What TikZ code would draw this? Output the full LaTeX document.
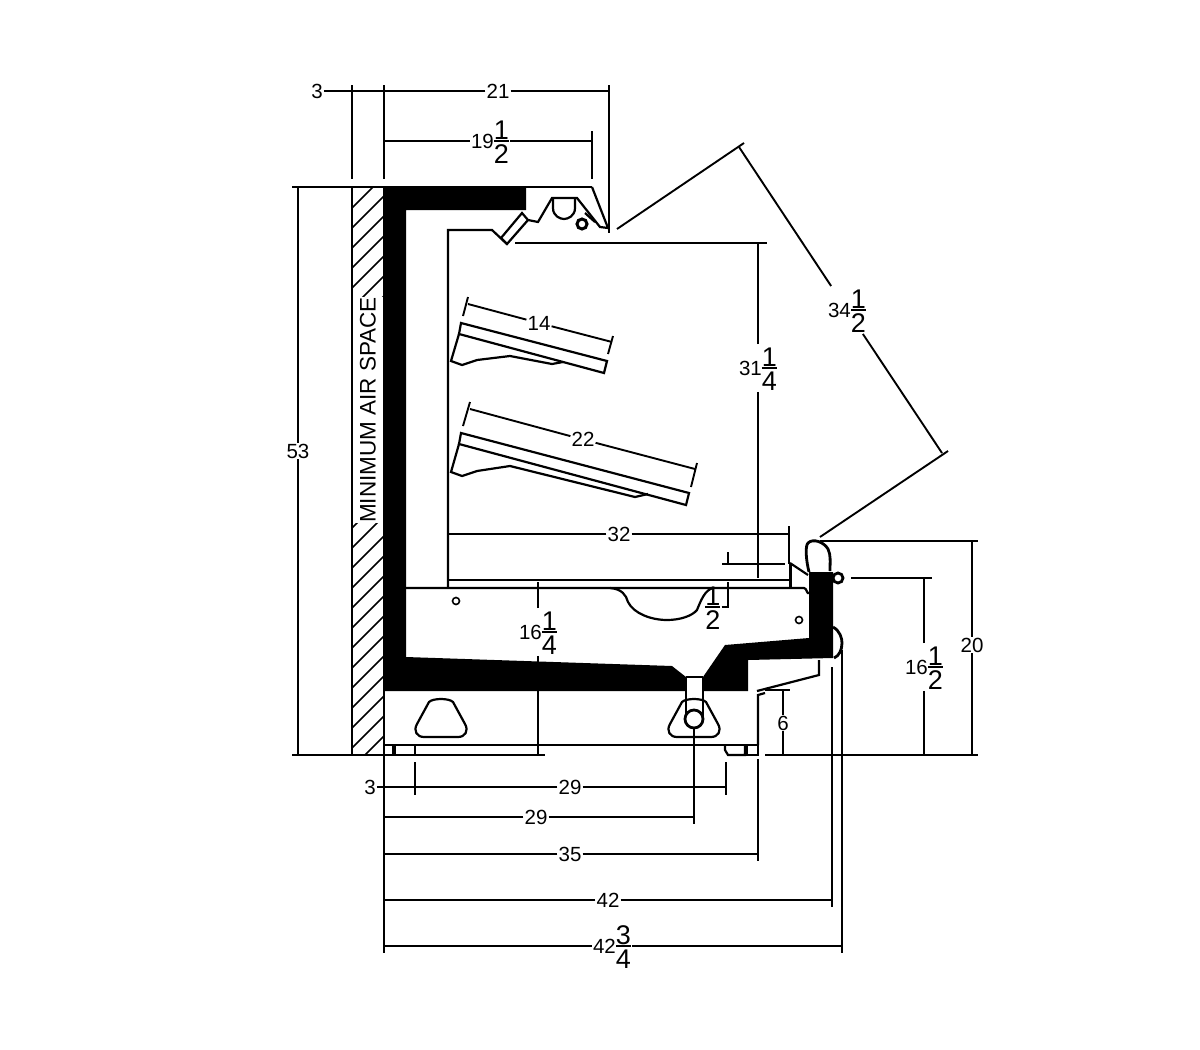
\documentclass[tikz,border=0pt]{standalone}
\usepackage{fontspec}
\setmainfont{Liberation Sans}
\usetikzlibrary{positioning,calc}
\newcommand{\smallfig}{\fontsize{20.5}{22}\selectfont}
\newcommand{\bigfig}{\fontsize{27}{30}\selectfont}
\newcommand{\mixedfig}[3]{{\smallfig #1}{\bigfig\ooalign{\hfil\rule{0pt}{30pt}\raisebox{8.7pt}{#2}\hfil\cr
  \rule[6.5pt]{15pt}{1.5pt}\cr\hfil\raisebox{-15.5pt}{#3}\hfil\cr}}}
\tikzset{dimlabel/.style={
  % The box:
  inner sep=1pt,
  % Font:
  font=\smallfig,
  }
}
\tikzset{dimline/.style={line width=1.9pt}}
\tikzset{outline/.style={line width=2.2pt,line join=miter}}
\begin{document}
\begin{tikzpicture}[x=1pt,y=-1pt]
  \useasboundingbox (0,0) rectangle (1200,1050);
  % Wall hatching:
  \begin{scope}
    \clip (352,187) rectangle (384,755);
    \foreach \hy in {208,228,...,800}
      \draw[line width=1.6pt] (352,\hy) -- ++(32,-32);
  \end{scope}
  \node[rotate=90,fill=white,inner sep=0pt,minimum height=30pt,minimum width=226pt,font=\fontsize{22.5}{24}\selectfont] (airspace) at (368,410) {MINIMUM AIR SPACE};
  \draw[dimline] (352,187) -- (352,755) (384,187) -- (384,755);
  % Black insulation:
  \fill (384,187) -- (526,187) -- (526,210) -- (406,210) -- (406,657) -- (672,666)
    -- (686,677) -- (686,691) -- (384,691) -- cycle;
  \fill (703,677) -- (725,645) -- (809,638) -- (809,590) -- (809,572) -- (833,572)
    -- (833,658) -- (748,660) -- (748,691) -- (703,691) -- cycle;
  % Top canopy:
  \draw[outline] (592,187) -- (608,228) -- (600,227) -- (577,198) -- (552,198) -- (538,222)
    -- (528,220) -- (522,213) -- (501,238) -- (507,244) -- (528,220);
  \draw[outline] (553,198) -- (553,208) .. controls (553,216) and (560,219) .. (564,219)
    .. controls (568,219) and (575,216) .. (575,208) -- (575,198);
  \draw[line width=3pt] (582,224) circle[radius=5];
  \draw[outline] (585,213) -- (595,222);
  \draw[outline] (448,588) -- (448,230) -- (492,230) -- (507,244);
  % Shelves:
  \draw[outline] (461,323) -- (607,361) -- (604,373) -- (459,334) -- cycle;
  \draw[outline] (459,334) -- (451,361) -- (462,365) -- (477,360) -- (510,356) -- (552,364) -- (563,362);
  \draw[outline] (461,433) -- (689,493) -- (686,505) -- (459,444) -- cycle;
  \draw[outline] (459,444) -- (451,472) -- (462,476) -- (477,471) -- (510,466) -- (635,497) -- (648,494);
  % Deck and cut-out:
  \draw[outline] (448,580) -- (789,580);
  \draw[outline] (406,588) -- (804,588) to[out=0,in=-135] (809,593);
  \draw[outline] (610,588) .. controls (622,589) and (626,595) .. (628,602)
    .. controls (634,614) and (652,620) .. (667,620)
    .. controls (680,620) and (692,616) .. (697,610)
    .. controls (701,600) and (705,590) .. (713,588);
  \draw[line width=1.6pt] (456,601) circle[radius=3.5] (799,620) circle[radius=3.5];
  % Front nose:
  \draw[outline] (790,563) -- (808,575);
  \draw[line width=3pt] (790,563) -- (790,588);
  \draw[line width=2.8pt] (809,572) .. controls (806,560) and (805,546) .. (808,543)
    .. controls (813,538) and (824,542) .. (828,549) .. controls (831,555) and (830,562) .. (830,571);
  \draw[line width=2.8pt] (838,578) circle[radius=5];
  \draw[line width=2.8pt] (833,627) .. controls (840,631) and (842,638) .. (842,643)
    .. controls (842,650) and (839,656) .. (834,658);
  \draw[outline] (819,660) -- (819,675) -- (757,691);
  % Base:
  \draw[outline] (384,745) -- (758,745);
  \draw[outline] (758,745) -- (758,695) -- (765,693);
  \draw[outline] (393,745) -- (393,755) (395,745) -- (395,755) -- (415,755) -- (415,745);
  \draw[outline] (725,745) -- (725,750) -- (728,755) -- (745,755) -- (745,745);
  \draw[outline] (747,745) -- (747,755) -- (758,755) -- (758,745);
  \foreach \tx in {441,694}
    \draw[outline] (\tx-12,702) .. controls (\tx-8,698) and (\tx+8,698) .. (\tx+12,702)
      -- (\tx+24,724) .. controls (\tx+28,731) and (\tx+24,737) .. (\tx+17,737)
      -- (\tx-17,737) .. controls (\tx-24,737) and (\tx-28,731) .. (\tx-24,724) -- cycle;
  \fill[white] (687,678) rectangle (702,691);
  \draw[outline] (686,677) -- (703,677) (686,677) -- (686,716) (703,677) -- (703,716);
  \draw[line width=2.8pt,fill=white] (694,719) circle[radius=9];
  % Dimension end points:
  \coordinate (w0) at (352,91);
  \coordinate (w1) at (384,91);
  \coordinate (w2) at (609,91);
  \coordinate (c1) at (384,141);
  \coordinate (c2) at (592,141);
  \coordinate (h1) at (298,187);
  \coordinate (h2) at (298,755);
  \coordinate (g1) at (739,147);
  \coordinate (g2) at (942,453);
  \coordinate (s1) at (468,304);
  \coordinate (s2) at (612,342);
  \coordinate (t1) at (470,409);
  \coordinate (t2) at (695,469);
  \coordinate (i1) at (758,243);
  \coordinate (i2) at (758,578);
  \coordinate (d1) at (448,534);
  \coordinate (d2) at (789,534);
  \coordinate (b1) at (538,582);
  \coordinate (b2) at (538,755);
  \coordinate (f1) at (972,541);
  \coordinate (f2) at (972,755);
  \coordinate (r1) at (924,578);
  \coordinate (r2) at (924,755);
  \coordinate (k1) at (783,690);
  \coordinate (k2) at (783,755);
  % Dimension labels:
  \node[dimlabel] (dimwall) at (317,91) {3};
  \node[dimlabel] (dimtop) at (498,91) {21};
  \node[dimlabel] (dimcanopy) at (490,141) {\mixedfig{19}{1}{2}};
  \node[dimlabel] (dimheight) at (298,451) {53};
  \node[dimlabel] (dimglass) at (847,310) {\mixedfig{34}{1}{2}};
  \node[dimlabel] (dimshelfa) at (539,323) {14};
  \node[dimlabel] (dimshelfb) at (583,439.5) {22};
  \node[dimlabel] (dimopen) at (758,368) {\mixedfig{31}{1}{4}};
  \node[dimlabel] (dimdeck) at (619,534) {32};
  \node[dimlabel] (dimlip) at (713,607) {\mixedfig{}{1}{2}};
  \node[dimlabel] (dimbase) at (538,632) {\mixedfig{16}{1}{4}};
  \node[dimlabel] (dimnose) at (972,645) {20};
  \node[dimlabel] (dimrail) at (924,667) {\mixedfig{16}{1}{2}};
  \node[dimlabel] (dimkick) at (783,723) {6};
  \node[dimlabel] (dimfoot) at (370,787) {3};
  \node[dimlabel] (dimfeet) at (570,787) {29};
  \node[dimlabel] (dimdrain) at (536,817) {29};
  \node[dimlabel] (dimcab) at (570,854) {35};
  \node[dimlabel] (dimfront) at (608,900) {42};
  \node[dimlabel] (dimall) at (612,946) {\mixedfig{42}{3}{4}};
  % Dimension lines:
  \path[dimline] (dimwall) edge (w0) (w0) edge (w1) (dimtop) edge (w1) edge (w2)
    (dimcanopy) edge (c1) edge (c2) (dimheight) edge (h1) edge (h2)
    (dimshelfa) edge (s1) edge (s2) (dimshelfb) edge (t1) edge (t2)
    (dimopen) edge (i1) edge (i2) (dimdeck) edge (d1) edge (d2)
    (dimbase) edge (b1) edge (b2) (dimnose) edge (f1) edge (f2)
    (dimrail) edge (r1) edge (r2) (dimkick) edge (k1) edge (k2)
    (dimglass) edge (g1) edge (g2);
  \draw[dimline] (dimlip) -- (728,607) -- (728,582);
  \draw[dimline] (728,552) -- (728,564) (722,564) -- (785,564);
  \draw[dimline] (dimfoot) -- (384,787) (384,787) -- (415,787);
  \draw[dimline] (dimfeet) -- (415,787) (dimfeet) -- (726,787);
  \draw[dimline] (dimdrain) -- (384,817) (dimdrain) -- (694,817);
  \draw[dimline] (dimcab) -- (384,854) (dimcab) -- (758,854);
  \draw[dimline] (dimfront) -- (384,900) (dimfront) -- (832,900);
  \draw[dimline] (dimall) -- (384,946) (dimall) -- (842,946);
  % Extension lines:
  \draw[dimline] (352,85) -- (352,179) (384,85) -- (384,179) (609,85) -- (609,233);
  \draw[dimline] (592,131) -- (592,179);
  \draw[dimline] (292,187) -- (592,187) (292,755) -- (545,755) (765,755) -- (978,755);
  \draw[dimline] (617,229) -- (744,143) (820,537) -- (948,451);
  \draw[dimline] (515,243) -- (767,243);
  \draw[dimline] (820,541) -- (978,541) (851,578) -- (932,578) (765,690) -- (790,690);
  \draw[dimline] (789,526) -- (789,564);
  \draw[dimline] (384,755) -- (384,953) (842,650) -- (842,953) (832,667) -- (832,907);
  \draw[dimline] (415,762) -- (415,795) (726,762) -- (726,795) (758,759) -- (758,861);
  \draw[dimline] (694,729) -- (694,824);
  \draw[dimline] (468,297) -- (463,316) (613,336) -- (608,354);
  \draw[dimline] (470,402) -- (463,426) (697,463) -- (691,487);
\end{tikzpicture}
\end{document}
